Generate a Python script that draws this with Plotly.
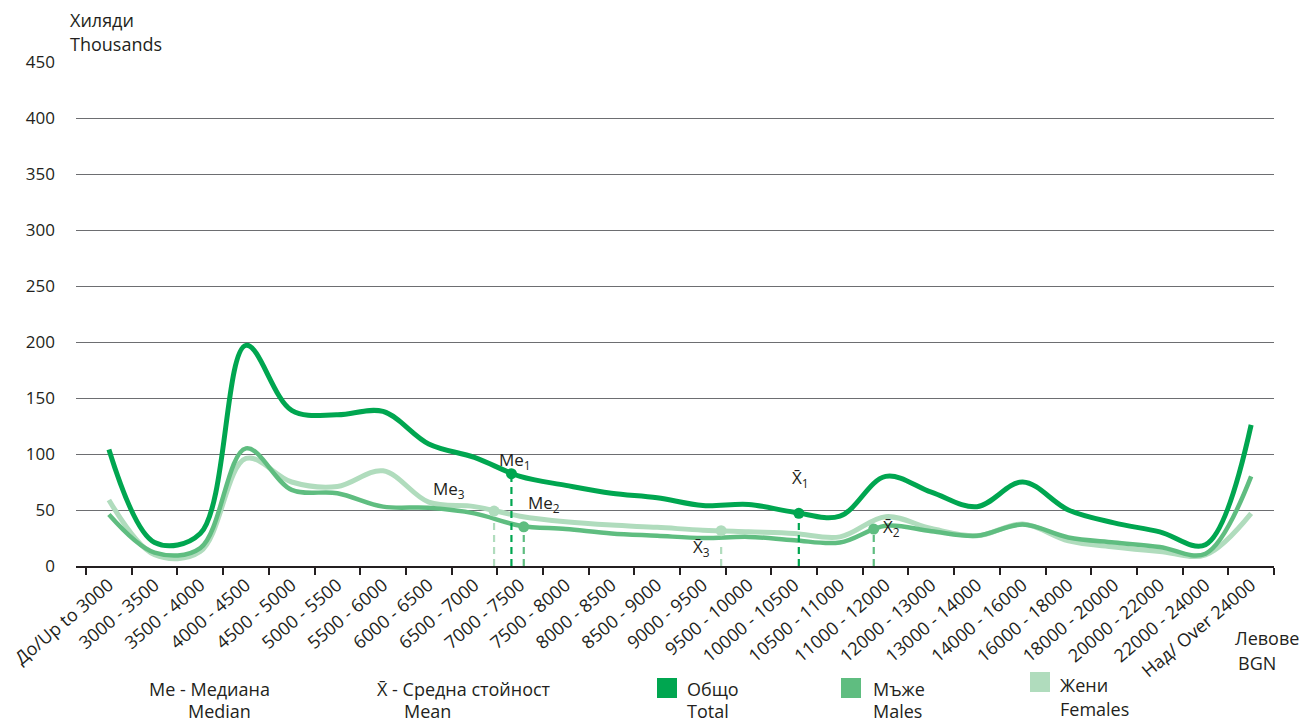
import plotly.graph_objects as go

categories = ["До/Up to 3000", "3000 - 3500", "3500 - 4000", "4000 - 4500", "4500 - 5000",
              "5000 - 5500", "5500 - 6000", "6000 - 6500", "6500 - 7000", "7000 - 7500",
              "7500 - 8000", "8000 - 8500", "8500 - 9000", "9000 - 9500", "9500 - 10000",
              "10000 - 10500", "10500 - 11000", "11000 - 12000", "12000 - 13000",
              "13000 - 14000", "14000 - 16000", "16000 - 18000", "18000 - 20000",
              "20000 - 22000", "22000 - 24000", "Над/ Over 24000"]
total = [104, 21, 29, 197, 139, 135, 138, 109, 97, 80, 72, 65, 61, 54, 55, 48, 44.5,
         80, 66, 53, 75, 50, 38.5, 30.5, 19, 126]
males = [46, 12, 16, 105, 68, 65, 53, 52, 47, 36, 33, 29, 27, 25, 26, 23, 21,
         36, 31, 27, 37, 25.5, 21, 17, 11, 80]
females = [59, 10, 13, 96, 75, 71, 85, 57, 53, 44.5, 39.5, 36.5, 34.5, 32, 30.5, 29, 26,
           44, 33.5, 27, 37.5, 22.5, 17, 13, 10, 47]

# median / mean markers (position on category scale, value)
stat_names = ["Me<sub>1</sub>", "Me<sub>2</sub>", "Me<sub>3</sub>",
              "X̄<sub>1</sub>", "X̄<sub>2</sub>", "X̄<sub>3</sub>"]
stat_pos = [8.81, 9.08, 8.43, 15.1, 16.74, 13.4]
stat_val = [82.4, 35, 49, 47, 33, 31.5]
stat_series = [0, 1, 2, 0, 1, 2]
stat_dash_top = [82.4, 35, 42, 47, 33, 19]

y_ticks = [0, 50, 100, 150, 200, 250, 300, 350, 400, 450]

C_TOTAL = "#00a650"
C_MALES = "#5fbd80"
C_FEM = "#b0dcbd"
colors = [C_TOTAL, C_MALES, C_FEM]
FONT = "Open Sans"
TXT = "#231f20"

# page body has an 8px default margin: work in page pixels and offset
OFF = 8
W, H = 1313 - OFF, 722 - OFF
L, T = 76 - OFF, 62 - OFF
R = W - (1274 - OFF)
B = H - (566 - OFF)
PW, PH = W - L - R, H - T - B

x = list(range(len(categories)))
fig = go.Figure()
for vals, col, w in [(females, C_FEM, 5), (males, C_MALES, 4.5), (total, C_TOTAL, 5)]:
    fig.add_trace(go.Scatter(x=x, y=vals, mode="lines", line=dict(color=col, width=w,
                  shape="spline", smoothing=1.0), showlegend=False, hoverinfo="skip"))

# dashed drop lines + markers
for i in range(len(stat_pos)):
    col = colors[stat_series[i]]
    fig.add_trace(go.Scatter(x=[stat_pos[i], stat_pos[i]], y=[0, stat_dash_top[i]],
                             mode="lines", line=dict(color=col, width=2.2, dash="7px,5px"),
                             showlegend=False, hoverinfo="skip"))
    fig.add_trace(go.Scatter(x=[stat_pos[i]], y=[stat_val[i]], mode="markers",
                             marker=dict(color=col, size=11), showlegend=False,
                             hoverinfo="skip"))

# stat labels
label_offsets = [(4, 13), (20, 23), (-45, 22), (2, 35), (18, 2), (-20, -17)]
anns = []
for i in range(len(stat_pos)):
    dx, dy = label_offsets[i]
    anns.append(dict(x=stat_pos[i], y=stat_val[i], xref="x", yref="y", text=stat_names[i],
                     showarrow=False, xshift=dx, yshift=dy,
                     font=dict(family=FONT, size=17, color=TXT)))


def pp(xp, yp, t, anchor="left", size=18):
    fx, fy = xp - OFF, yp - OFF
    anns.append(dict(x=(fx - L) / PW, y=(H - B - fy) / PH, xref="paper", yref="paper",
                     text=t, showarrow=False, xanchor=anchor, yanchor="middle",
                     font=dict(family=FONT, size=size, color=TXT)))


pp(68, 20, "Хиляди")
pp(68, 44, "Thousands")
pp(1233, 638, "Левове")
pp(1236, 663, "BGN")
pp(209, 689, "Me - Медиана", "center")
pp(219, 711, "Median", "center")
pp(375, 689, "X̄ - Средна стойност", "left")
pp(402, 711, "Mean", "left")
pp(685, 689, "Общо")
pp(685, 711, "Total")
pp(871, 689, "Мъже")
pp(871, 711, "Males")
pp(1058, 685, "Жени")
pp(1058, 709, "Females")

shapes = []
for (x0, y0, col) in [(657, 678, C_TOTAL), (841, 678, C_MALES), (1030, 672, C_FEM)]:
    fx, fy = x0 - OFF, y0 - OFF
    shapes.append(dict(type="rect", xref="paper", yref="paper",
                       x0=(fx - L) / PW, x1=(fx + 20 - L) / PW,
                       y0=(H - B - fy) / PH, y1=(H - B - fy - 20) / PH,
                       fillcolor=col, line=dict(width=0)))

fig.update_layout(
    width=W, height=H,
    margin=dict(l=L, r=R, t=T, b=B, autoexpand=False),
    paper_bgcolor="white", plot_bgcolor="white",
    annotations=anns, shapes=shapes,
    font=dict(family=FONT, size=17, color=TXT),
    xaxis=dict(range=[-0.72, 25.5], tickmode="array", tickvals=x, ticktext=categories,
               tickangle=-40, ticks="", showgrid=False, zeroline=False,
               showline=True, linecolor="#231f20", linewidth=1.5, automargin=False,
               ticklabeloverflow="allow",
               tickfont=dict(family=FONT, size=18, color=TXT),
               minor=dict(tickmode="linear", tick0=-0.5, dtick=1, ticks="outside",
                          ticklen=7, tickcolor="#231f20", tickwidth=1.5, showgrid=False)),
    yaxis=dict(range=[0, 450], tickmode="array", tickvals=y_ticks, showgrid=True,
               gridcolor="#6d6e71", gridwidth=1, zeroline=False, showline=False,
               ticks="", ticklabelstandoff=20, automargin=False,
               tickfont=dict(family=FONT, size=17, color=TXT)),
)
fig.write_html("out.html")
